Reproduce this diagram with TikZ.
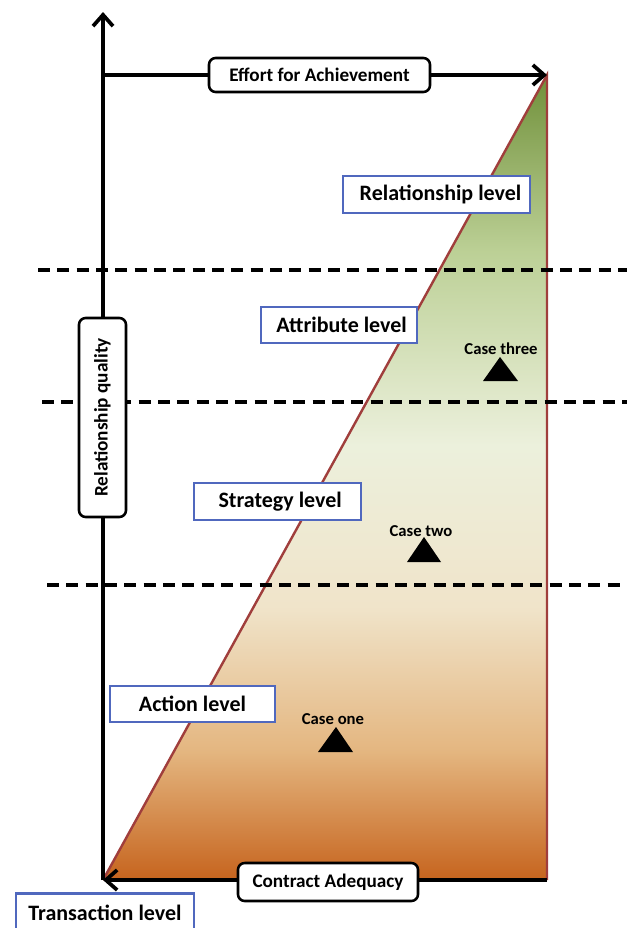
\documentclass[tikz,border=0pt]{standalone}
\usepackage{fontspec}
\setmainfont{Carlito}
\usetikzlibrary{arrows.meta}
\definecolor{tribrd}{RGB}{160,62,60}
\definecolor{lvlblue}{RGB}{80,104,190}
\definecolor{g1}{RGB}{112,144,58}
\definecolor{g2}{RGB}{188,208,150}
\definecolor{g3}{RGB}{236,240,220}
\definecolor{g4}{RGB}{240,228,202}
\definecolor{g5}{RGB}{228,182,128}
\definecolor{g6}{RGB}{198,100,30}
\pgfdeclareverticalshading{trishade}{100bp}{color(0bp)=(g6); color(25bp)=(g6); color(33bp)=(g5); color(42bp)=(g4); color(52bp)=(g3); color(64bp)=(g2); color(75bp)=(g1); color(100bp)=(g1)}
\tikzset{
  axis/.style={line width=3pt, -{Straight Barb[length=8.5pt,width=15pt,line width=2.8pt]}},
  axbox/.style={draw=black, line width=1.9pt, fill=white, rounded corners=5pt, inner sep=0pt, font=\bfseries\fontsize{14.4}{16}\selectfont},
  lvlbox/.style={draw=lvlblue, line width=2pt, fill=white, inner sep=0pt, font=\bfseries\fontsize{16.5}{19}\selectfont},
  divline/.style={line width=2.3pt, dash pattern=on 9pt off 5.5pt},
  caselbl/.style={font=\bfseries\fontsize{12.5}{14}\selectfont, inner sep=0pt},
  marker/.style={fill=black}
}
\begin{document}
\begin{tikzpicture}[x=0.75pt,y=-0.75pt]
\useasboundingbox (0,0) rectangle (627,928);
\coordinate (O) at (103,880);
\coordinate (Y) at (103,12);
\coordinate (L) at (103,75);
\coordinate (T) at (547,75);
\coordinate (B) at (547,880);
% triangle
\shade[shading=trishade] (O) -- (T) -- (B) -- cycle;
\draw[tribrd, line width=1.8pt, line join=miter] (O) -- (T) -- (B);
% dashed divisions
\coordinate (d1a) at (38,270); \coordinate (d1b) at (627,270);
\coordinate (d2a) at (42,402); \coordinate (d2b) at (627,402);
\coordinate (d3a) at (47,585); \coordinate (d3b) at (627,585);
\draw[divline] (d1a) -- (d1b);
\draw[divline] (d2a) -- (d2b);
\draw[divline] (d3a) -- (d3b);
% axes
\draw[axis] (O) -- (Y);
\draw[axis] (L) -- (T);
\draw[axis] (B) -- (O);
% axis labels
\node[axbox, minimum width={221*0.75pt}, minimum height={34*0.75pt}] (eff) at (319.5,75) {Effort for Achievement};
\node[axbox, minimum width={180*0.75pt}, minimum height={38*0.75pt}] (con) at (328,882) {Contract Adequacy};
\node[axbox, minimum width={199*0.75pt}, minimum height={47*0.75pt}, rotate=90] (rq) at (102.5,417.5) {Relationship quality};
% level boxes
\node[lvlbox, minimum width={187*0.75pt}, minimum height={37*0.75pt}] (rel) at (436.5,194.5) {\hspace*{6pt}Relationship level};
\node[lvlbox, minimum width={156*0.75pt}, minimum height={36*0.75pt}] (att) at (339,325) {\hspace*{4pt}Attribute level};
\node[lvlbox, minimum width={167*0.75pt}, minimum height={37*0.75pt}] (str) at (277.5,501.5) {\hspace*{4pt}Strategy level};
\node[lvlbox, minimum width={165*0.75pt}, minimum height={36*0.75pt}] (act) at (192.5,704) {Action level};
\node[lvlbox, minimum width={178*0.75pt}, minimum height={38*0.75pt}] (tra) at (105,912.5) {Transaction level};
% cases
\node[caselbl] (c3l) at (501,349) {Case three};
\fill[marker] (500,357) -- (518,381) -- (483,381) -- cycle;
\node[caselbl] (c2l) at (421,531) {Case two};
\fill[marker] (424,537) -- (441,562) -- (407,562) -- cycle;
\node[caselbl] (c1l) at (333,719) {Case one};
\fill[marker] (336,727) -- (353,752) -- (318,752) -- cycle;
\end{tikzpicture}
\end{document}
